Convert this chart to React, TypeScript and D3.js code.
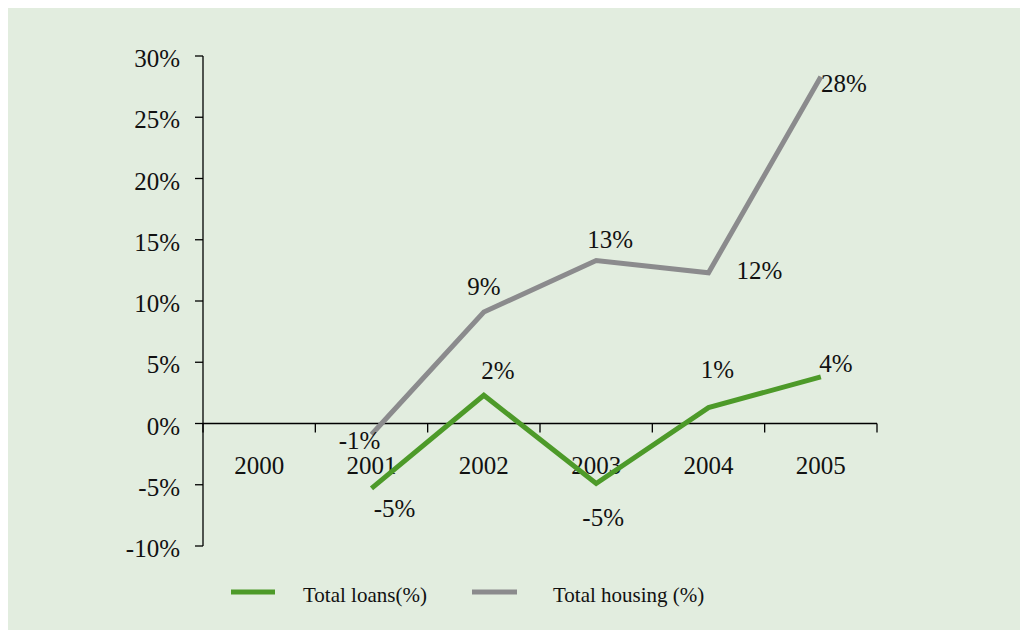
import React, { useEffect, useState } from "react";
import * as d3 from "d3";

const years = ["2000", "2001", "2002", "2003", "2004", "2005"];
const loans: (number | null)[] = [null, -5.3, 2.3, -4.9, 1.3, 3.8];
const housing: (number | null)[] = [null, -0.9, 9.1, 13.3, 12.3, 28.3];
const loanLabels = ["", "-5%", "2%", "-5%", "1%", "4%"];
const housingLabels = ["", "-1%", "9%", "13%", "12%", "28%"];
const yTicks = [-10, -5, 0, 5, 10, 15, 20, 25, 30];

// label offsets (dx, dy) relative to point
const loanOff: [number, number][] = [[0, 0], [23, 29], [14, -16], [7, 42], [9, -30], [15, -5]];
const housingOff: [number, number][] = [[0, 0], [-12, 14], [0, -17], [14, -13], [51, 6], [23, 15]];

const W = 1020, H = 622;
const GREEN = "#4d9a29";
const GRAY = "#8b8b8d";
const FONT = "Liberation Serif";

export default function App() {
  const [, setTick] = useState(0);
  useEffect(() => {
    const f = (document as any).fonts;
    if (f && f.load) {
      Promise.all([f.load('25px "Liberation Serif"'), f.load('21px "Liberation Serif"')]).then(() => setTick((t) => t + 1)).catch(() => {});
    }
  }, []);
  const left = 195, right = 869, top = 48, bottom = 538;
  const x = d3.scaleBand<string>().domain(years).range([left, right]).padding(0);
  const y = d3.scaleLinear().domain([-10, 30]).range([bottom, top]);
  const cx = (i: number) => (x(years[i]) as number) + x.bandwidth() / 2;
  const line = d3
    .line<number | null>()
    .defined((d) => d !== null)
    .x((_, i) => cx(i))
    .y((d) => y(d as number));
  const y0 = y(0);
  const xTickPos = years.map((yr) => x(yr) as number).concat([right]);

  return (
    <svg width={W} height={H} style={{ display: "block", overflow: "visible" }}>
      <style>{`text { font-family: "Liberation Serif", "Times New Roman", serif; }`}</style>
      <rect x={0} y={0} width={W + 8} height={H + 8} fill="#e2eddf" />
      {/* y axis */}
      <line x1={left} x2={left} y1={top} y2={bottom} stroke="#000" strokeWidth={1.3} />
      {yTicks.map((t) => (
        <g key={t}>
          <line x1={left - 8} x2={left} y1={y(t)} y2={y(t)} stroke="#000" strokeWidth={1.3} />
          <text x={left - 23} y={y(t) + 11} textAnchor="end" fontFamily={FONT} fontSize={25} fill="#111">
            {t}%
          </text>
        </g>
      ))}
      {/* x axis at 0 */}
      <line x1={left} x2={right} y1={y0} y2={y0} stroke="#000" strokeWidth={1.3} />
      {xTickPos.map((p, i) => (
        <line key={i} x1={p} x2={p} y1={y0} y2={y0 + 9} stroke="#000" strokeWidth={1.3} />
      ))}
      {years.map((yr, i) => (
        <text key={yr} x={cx(i)} y={y0 + 50} textAnchor="middle" fontFamily={FONT} fontSize={25} fill="#111">
          {yr}
        </text>
      ))}
      {/* lines */}
      <path d={line(housing) || ""} fill="none" stroke={GRAY} strokeWidth={5} strokeLinejoin="miter" />
      <path d={line(loans) || ""} fill="none" stroke={GREEN} strokeWidth={5} strokeLinejoin="miter" />
      {/* data labels */}
      {housing.map((v, i) =>
        v === null ? null : (
          <text key={"h" + i} x={cx(i) + housingOff[i][0]} y={y(v) + housingOff[i][1]} textAnchor="middle" fontFamily={FONT} fontSize={25} fill="#111">
            {housingLabels[i]}
          </text>
        )
      )}
      {loans.map((v, i) =>
        v === null ? null : (
          <text key={"l" + i} x={cx(i) + loanOff[i][0]} y={y(v) + loanOff[i][1]} textAnchor="middle" fontFamily={FONT} fontSize={25} fill="#111">
            {loanLabels[i]}
          </text>
        )
      )}
      {/* legend */}
      <line x1={223} x2={267} y1={584} y2={584} stroke={GREEN} strokeWidth={5} />
      <text x={295} y={594} fontFamily={FONT} fontSize={21} fill="#111">Total loans(%)</text>
      <line x1={464} x2={509} y1={584} y2={584} stroke={GRAY} strokeWidth={5} />
      <text x={545} y={594} fontFamily={FONT} fontSize={21} fill="#111">Total housing (%)</text>
    </svg>
  );
}
